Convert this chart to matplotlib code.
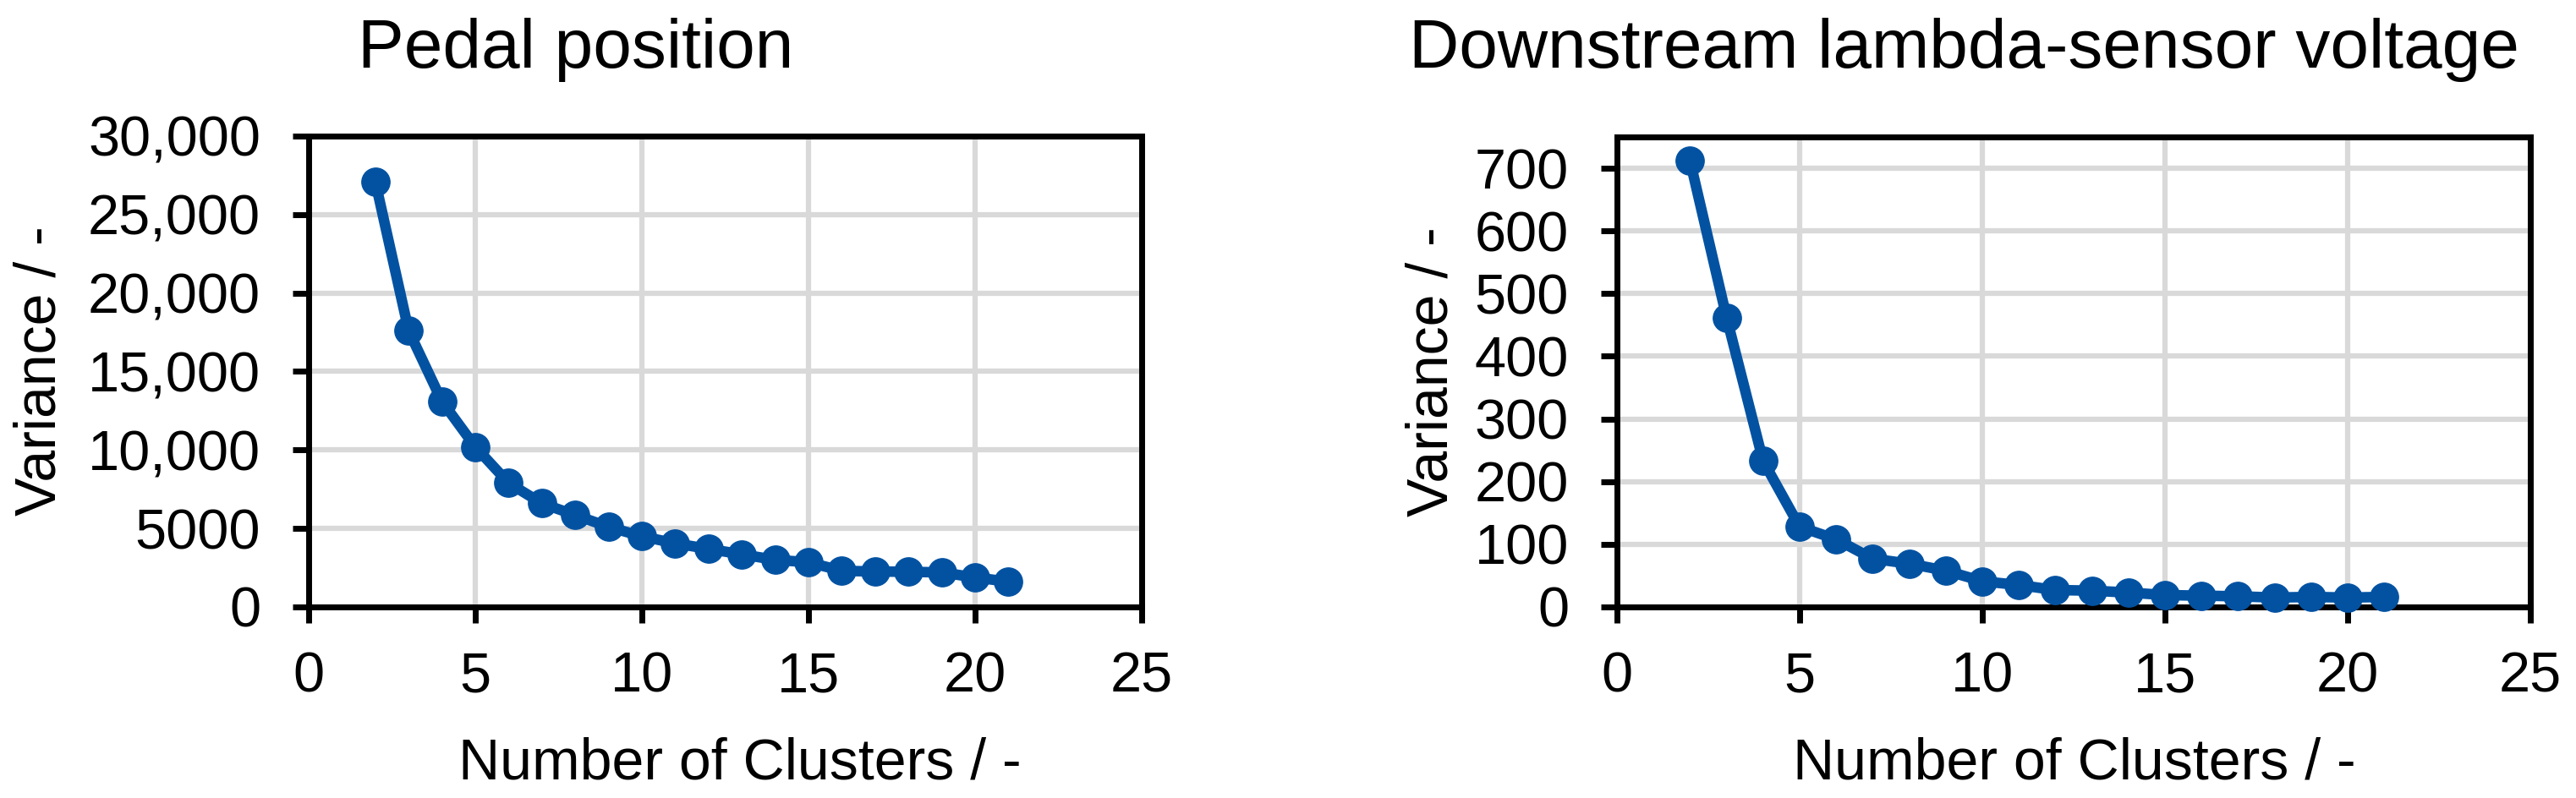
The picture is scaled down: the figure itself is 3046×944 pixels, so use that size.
import matplotlib
matplotlib.use("Agg")
import matplotlib.pyplot as plt

plt.rcParams['font.family'] = ['Liberation Sans', 'DejaVu Sans']

# data
clusters = [2, 3, 4, 5, 6, 7, 8, 9, 10, 11, 12, 13, 14, 15, 16, 17, 18, 19, 20, 21]
pedal_var = [27100, 17600, 13100, 10200, 7900, 6600, 5850, 5100, 4500, 4050,
             3700, 3350, 3000, 2850, 2300, 2260, 2240, 2200, 1880, 1610]
lambda_var = [712, 462, 233, 128, 108, 77, 69, 58, 41, 35,
              27, 26, 23, 19, 18, 17, 15, 16, 15, 16]

x_ticks = [0, 5, 10, 15, 20, 25]
pedal_ticks = [0, 5000, 10000, 15000, 20000, 25000, 30000]
pedal_labels = ['0', '5000', '10,000', '15,000', '20,000', '25,000', '30,000']
lambda_ticks = [0, 100, 200, 300, 400, 500, 600, 700]

titles = ['Pedal position', 'Downstream lambda-sensor voltage']
xlabel = 'Number of Clusters / -'
ylabel = 'Variance / -'

blue = '#0352A2'
grid_c = '#D9D9D9'
W, H = 3046, 944

fig = plt.figure(figsize=(W / 100, H / 100), dpi=100)

# axes boxes in pixel coords (left, top, right, bottom)
boxes = [(365, 161, 1350, 718), (1912, 162, 2992, 718)]
axes = []
for (l, t, r, b) in boxes:
    ax = fig.add_axes([l / W, 1 - b / H, (r - l) / W, (b - t) / H])
    axes.append(ax)

def style(ax):
    ax.set_xlim(0, 25)
    ax.set_xticks(x_ticks)
    ax.grid(True, color=grid_c, linewidth=4.5)
    ax.set_axisbelow(True)
    for s in ax.spines.values():
        s.set_linewidth(5)
        s.set_color('black')
    ax.tick_params(axis='both', direction='out', length=14, width=5,
                   labelsize=48, top=False, right=False)
    ax.tick_params(axis='y', pad=27)
    ax.tick_params(axis='x', pad=24)

ax1, ax2 = axes
ax1.plot(clusters, pedal_var, color=blue, linewidth=9, marker='o',
         markersize=24, zorder=3, clip_on=False)
style(ax1)
ax1.set_ylim(0, 30000)
ax1.set_yticks(pedal_ticks)
ax1.set_yticklabels(pedal_labels)

ax2.plot(clusters, lambda_var, color=blue, linewidth=9, marker='o',
         markersize=24, zorder=3, clip_on=False)
style(ax2)
ax2.set_ylim(0, 750)
ax2.set_yticks(lambda_ticks)

# titles and axis labels (positions in pixels)
fig.text(681 / W, 1 - 80 / H, titles[0], fontsize=59, ha='center', va='baseline')
fig.text(2322 / W, 1 - 80 / H, titles[1], fontsize=59, ha='center', va='baseline')
fig.text(875 / W, 1 - 921 / H, xlabel, fontsize=49, ha='center', va='baseline')
fig.text(2453 / W, 1 - 921 / H, xlabel, fontsize=49, ha='center', va='baseline')
fig.text(65 / W, 1 - 439 / H, ylabel, fontsize=49, rotation=90,
         rotation_mode='anchor', ha='center', va='baseline')
fig.text(1712 / W, 1 - 440 / H, ylabel, fontsize=49, rotation=90,
         rotation_mode='anchor', ha='center', va='baseline')

fig.savefig('out.png', dpi=100)
